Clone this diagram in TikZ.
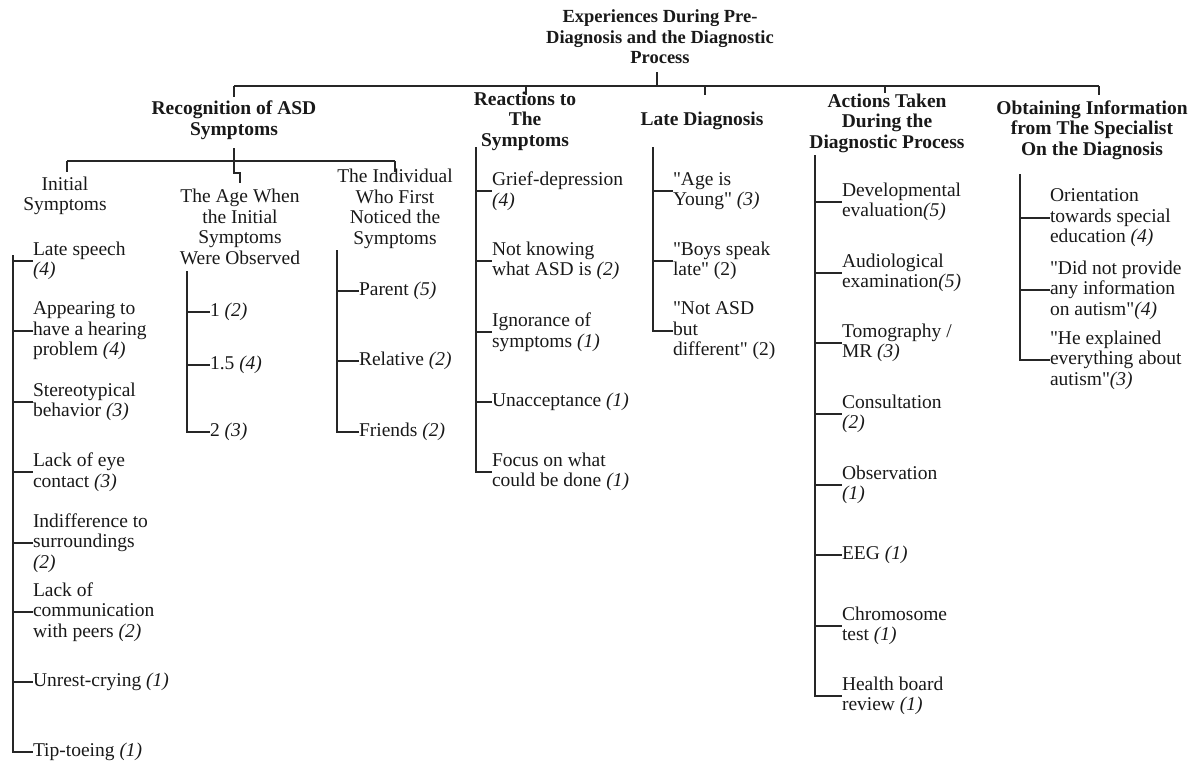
\documentclass[tikz,border=0pt]{standalone}
\usepackage{fontspec}
\setmainfont{Liberation Serif}[Ligatures=TeXOff]
\begin{document}
\begin{tikzpicture}[x=1pt,y=-1pt,
  every node/.style={inner sep=0pt, outer sep=0pt, text=black!90,
    font=\fontsize{19.5}{20.5}\selectfont},
  hd/.style={align=center, font=\fontsize{19.5}{20.5}\selectfont\bfseries},
  sub/.style={align=center},
  item/.style={align=left, anchor=west},
  ln/.style={draw=black!85, line width=1.2pt}]
\useasboundingbox (0,0) rectangle (1204,764);

% ---------- title and main headers ----------
\node[hd, font=\fontsize{18.5}{20.5}\selectfont\bfseries] (title) at (660,37) {Experiences During Pre-\\Diagnosis and the Diagnostic\\Process};
\node[hd] (rec)  at (234,120) {Recognition of ASD\\Symptoms};
\node[hd] (rea)  at (525,121) {Reactions to\\The\\Symptoms};
\node[hd] (late) at (702,121) {Late Diagnosis};
\node[hd] (act)  at (887,123) {Actions Taken\\During the\\Diagnostic Process};
\node[hd] (obt)  at (1092,130) {Obtaining Information\\from The Specialist\\On the Diagnosis};

\coordinate (b0) at (657,86);
\coordinate (b1) at (234,86);
\coordinate (b2) at (526,86);
\coordinate (b3) at (705,86);
\coordinate (b4) at (885,86);
\coordinate (b5) at (1099,86);
\draw[ln] (b0) -- ++(0,-14);
\draw[ln] (b1) -- (b5);
\draw[ln] (b1) -- ++(0,11);
\draw[ln] (b2) -- ++(0,9);
\draw[ln] (b3) -- ++(0,9);
\draw[ln] (b4) -- ++(0,7);
\draw[ln] (b5) -- ++(0,9);

% ---------- recognition sub-headers ----------
\node[sub] (init) at (65,196) {Initial\\Symptoms};
\node[sub] (age)  at (240,227) {The Age When\\the Initial\\Symptoms\\Were Observed};
\node[sub] (ind)  at (395,209) {The Individual\\Who First\\Noticed the\\Symptoms};

\coordinate (r0) at (234,148);
\coordinate (r1) at (67,161);
\coordinate (r2) at (234,161);
\coordinate (r3) at (395,161);
\draw[ln] (r0) -- (234,173) -- (240,173) -- (240,183);
\draw[ln] (r1) -- (r3);
\draw[ln] (r1) -- ++(0,11);
\draw[ln] (r3) -- ++(0,11);

% ---------- initial symptoms ----------
\node[item] (i1) at (33,261) {Late speech\\\textit{(4)}};
\node[item] (i2) at (33,331) {Appearing to\\have a hearing\\problem \textit{(4)}};
\node[item] (i3) at (33,402) {Stereotypical\\behavior \textit{(3)}};
\node[item] (i4) at (33,472) {Lack of eye\\contact \textit{(3)}};
\node[item] (i5) at (33,543) {Indifference to\\surroundings\\\textit{(2)}};
\node[item] (i6) at (33,612) {Lack of\\communication\\with peers \textit{(2)}};
\node[item] (i7) at (33,682) {Unrest-crying \textit{(1)}};
\node[item] (i8) at (33,752) {Tip-toeing \textit{(1)}};
\coordinate (is) at (13,255);
\foreach \n in {i1,i2,i3,i4,i5,i6,i7,i8} \draw[ln] (is) |- (\n.west);

% ---------- age ----------
\node[item] (a1) at (210,312) {1 \textit{(2)}};
\node[item] (a2) at (210,365) {1.5 \textit{(4)}};
\node[item] (a3) at (210,432) {2 \textit{(3)}};
\coordinate (as) at (187,271);
\foreach \n in {a1,a2,a3} \draw[ln] (as) |- (\n.west);

% ---------- individual ----------
\node[item] (p1) at (359,291) {Parent \textit{(5)}};
\node[item] (p2) at (359,361) {Relative \textit{(2)}};
\node[item] (p3) at (359,432) {Friends \textit{(2)}};
\coordinate (ps) at (337,250);
\foreach \n in {p1,p2,p3} \draw[ln] (ps) |- (\n.west);

% ---------- reactions ----------
\node[item] (e1) at (492,191) {Grief-depression\\\textit{(4)}};
\node[item] (e2) at (492,261) {Not knowing\\what ASD is \textit{(2)}};
\node[item] (e3) at (492,332) {Ignorance of\\symptoms \textit{(1)}};
\node[item] (e4) at (492,402) {Unacceptance \textit{(1)}};
\node[item] (e5) at (492,472) {Focus on what\\could be done \textit{(1)}};
\coordinate (es) at (476,147);
\foreach \n in {e1,e2,e3,e4,e5} \draw[ln] (es) |- (\n.west);

% ---------- late diagnosis ----------
\node[item] (l1) at (673,191) {"Age is\\Young" \textit{(3)}};
\node[item] (l2) at (673,261) {"Boys speak\\late" (2)};
\node[item] (l3) at (673,331) {"Not ASD\\but\\different" (2)};
\coordinate (ls) at (653,147);
\foreach \n in {l1,l2,l3} \draw[ln] (ls) |- (\n.west);

% ---------- actions ----------
\node[item] (c1) at (842,202) {Developmental\\evaluation\textit{(5)}};
\node[item] (c2) at (842,273) {Audiological\\examination\textit{(5)}};
\node[item] (c3) at (842,343) {Tomography /\\MR \textit{(3)}};
\node[item] (c4) at (842,414) {Consultation\\\textit{(2)}};
\node[item] (c5) at (842,485) {Observation\\\textit{(1)}};
\node[item] (c6) at (842,555) {EEG \textit{(1)}};
\node[item] (c7) at (842,626) {Chromosome\\test \textit{(1)}};
\node[item] (c8) at (842,696) {Health board\\review \textit{(1)}};
\coordinate (cs) at (815,155);
\foreach \n in {c1,c2,c3,c4,c5,c6,c7,c8} \draw[ln] (cs) |- (\n.west);

% ---------- obtaining information ----------
\node[item] (o1) at (1050,218) {Orientation\\towards special\\education \textit{(4)}};
\node[item] (o2) at (1050,290) {"Did not provide\\any information\\on autism"\textit{(4)}};
\node[item] (o3) at (1050,360) {"He explained\\everything about\\autism"\textit{(3)}};
\coordinate (os) at (1020,174);
\foreach \n in {o1,o2,o3} \draw[ln] (os) |- (\n.west);
\end{tikzpicture}
\end{document}
